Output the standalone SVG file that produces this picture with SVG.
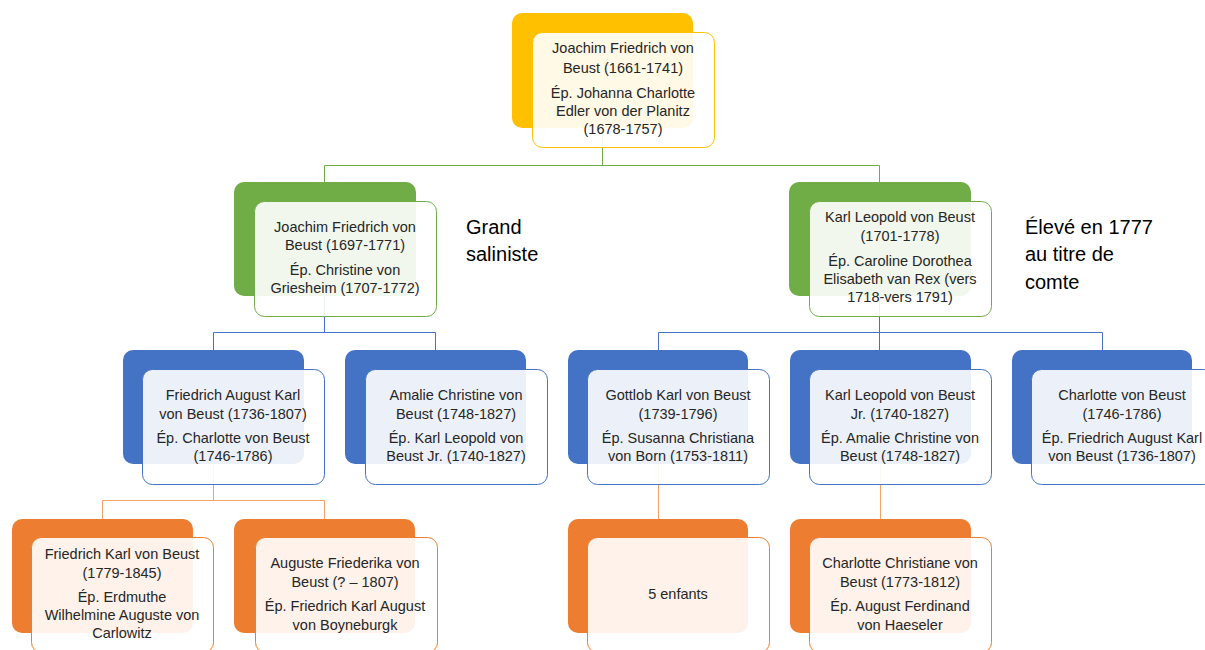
<svg xmlns="http://www.w3.org/2000/svg" width="1205" height="650" viewBox="0 0 1205 650">
<style>
.t{font-family:"Liberation Sans",Arial,sans-serif;font-size:14.5px;fill:#262626;text-anchor:middle}
.side{font-family:"Liberation Sans",Arial,sans-serif;font-size:20px;fill:#000}
.f{fill:#fff;fill-opacity:0.9;stroke-width:1}
.c{fill:none;stroke-width:1}
.gold .b{fill:#FFC000}.gold .f{stroke:#FFC000}
.green .b{fill:#70AD47}.green .f{stroke:#70AD47}
.blue .b{fill:#4472C4}.blue .f{stroke:#4472C4}
.orange .b{fill:#ED7D31}.orange .f{stroke:#ED7D31}
</style>
<rect width="1205" height="650" fill="#fff"/>
<g id="connectors">
<path class="c" stroke="#70AD47" d="M602.5,128V165.5M324.5,165.5H879.5M324.5,165.5V182M879.5,165.5V182"/>
<path class="c" stroke="#4472C4" d="M324.5,296V332.5M213.5,332.5H435.5M213.5,332.5V350M435.5,332.5V350"/>
<path class="c" stroke="#4472C4" d="M879.5,296V332.5M658.5,332.5H1102.5M658.5,332.5V350M879.5,332.5V350M1102.5,332.5V350"/>
<path class="c" stroke="#F4A36B" d="M213.5,464V500.5M102.5,500.5H324.5M102.5,500.5V519M324.5,500.5V519"/>
<path class="c" stroke="#F4A36B" d="M658.5,464V519M880.5,464V519"/>
</g>
<g id="n0" class="gold">
<rect class="b" x="512" y="13" width="181" height="115" rx="10"/>
<rect class="f" x="532.5" y="32.5" width="182" height="115" rx="10"/>
<text class="t"><tspan x="623" y="53">Joachim Friedrich von</tspan><tspan x="623" y="73">Beust (1661-1741)</tspan><tspan x="623" y="98">Ép. Johanna Charlotte</tspan><tspan x="623" y="116">Edler von der Planitz</tspan><tspan x="623" y="134">(1678-1757)</tspan></text>
</g>
<g id="n1" class="green">
<rect class="b" x="234" y="182" width="182" height="114" rx="10"/>
<rect class="f" x="254.5" y="201.5" width="182" height="115" rx="10"/>
<text class="t"><tspan x="345" y="232">Joachim Friedrich von</tspan><tspan x="345" y="250">Beust (1697-1771)</tspan><tspan x="345" y="275">Ép. Christine von</tspan><tspan x="345" y="293">Griesheim (1707-1772)</tspan></text>
</g>
<text class="side"><tspan x="466" y="234">Grand</tspan><tspan x="466" y="261">saliniste</tspan></text>
<g id="n2" class="green">
<rect class="b" x="789" y="182" width="182" height="114" rx="10"/>
<rect class="f" x="809.5" y="201.5" width="182" height="115" rx="10"/>
<text class="t"><tspan x="900" y="222">Karl Leopold von Beust</tspan><tspan x="900" y="241">(1701-1778)</tspan><tspan x="900" y="266">Ép. Caroline Dorothea</tspan><tspan x="900" y="284">Elisabeth van Rex (vers</tspan><tspan x="900" y="302">1718-vers 1791)</tspan></text>
</g>
<text class="side"><tspan x="1025" y="234">Élevé en 1777</tspan><tspan x="1025" y="261">au titre de</tspan><tspan x="1025" y="289">comte</tspan></text>
<g id="n3" class="blue">
<rect class="b" x="123" y="350" width="181" height="114" rx="10"/>
<rect class="f" x="142.5" y="369.5" width="182" height="115" rx="10"/>
<text class="t"><tspan x="233" y="400">Friedrich August Karl</tspan><tspan x="233" y="419">von Beust (1736-1807)</tspan><tspan x="233" y="443">Ép. Charlotte von Beust</tspan><tspan x="233" y="461">(1746-1786)</tspan></text>
</g>
<g id="n4" class="blue">
<rect class="b" x="345" y="350" width="181" height="114" rx="10"/>
<rect class="f" x="365.5" y="369.5" width="182" height="115" rx="10"/>
<text class="t"><tspan x="456" y="400">Amalie Christine von</tspan><tspan x="456" y="419">Beust (1748-1827)</tspan><tspan x="456" y="443">Ép. Karl Leopold von</tspan><tspan x="456" y="461">Beust Jr. (1740-1827)</tspan></text>
</g>
<g id="n5" class="blue">
<rect class="b" x="568" y="350" width="180" height="114" rx="10"/>
<rect class="f" x="587.5" y="369.5" width="182" height="115" rx="10"/>
<text class="t"><tspan x="678" y="400">Gottlob Karl von Beust</tspan><tspan x="678" y="419">(1739-1796)</tspan><tspan x="678" y="443">Ép. Susanna Christiana</tspan><tspan x="678" y="461">von Born (1753-1811)</tspan></text>
</g>
<g id="n6" class="blue">
<rect class="b" x="790" y="350" width="181" height="114" rx="10"/>
<rect class="f" x="809.5" y="369.5" width="182" height="115" rx="10"/>
<text class="t"><tspan x="900" y="400">Karl Leopold von Beust</tspan><tspan x="900" y="419">Jr. (1740-1827)</tspan><tspan x="900" y="443">Ép. Amalie Christine von</tspan><tspan x="900" y="461">Beust (1748-1827)</tspan></text>
</g>
<g id="n7" class="blue">
<rect class="b" x="1012" y="350" width="180" height="114" rx="10"/>
<rect class="f" x="1031.5" y="369.5" width="182" height="115" rx="10"/>
<text class="t"><tspan x="1122" y="400">Charlotte von Beust</tspan><tspan x="1122" y="419">(1746-1786)</tspan><tspan x="1122" y="443">Ép. Friedrich August Karl</tspan><tspan x="1122" y="461">von Beust (1736-1807)</tspan></text>
</g>
<g id="n8" class="orange">
<rect class="b" x="12" y="519" width="181" height="114" rx="10"/>
<rect class="f" x="31.5" y="537.5" width="182" height="115" rx="10"/>
<text class="t"><tspan x="122" y="559">Friedrich Karl von Beust</tspan><tspan x="122" y="578">(1779-1845)</tspan><tspan x="122" y="602">Ép. Erdmuthe</tspan><tspan x="122" y="620">Wilhelmine Auguste von</tspan><tspan x="122" y="638">Carlowitz</tspan></text>
</g>
<g id="n9" class="orange">
<rect class="b" x="234" y="519" width="181" height="114" rx="10"/>
<rect class="f" x="255.5" y="537.5" width="182" height="115" rx="10"/>
<text class="t"><tspan x="345" y="568">Auguste Friederika von</tspan><tspan x="345" y="587">Beust (? – 1807)</tspan><tspan x="345" y="611">Ép. Friedrich Karl August</tspan><tspan x="345" y="630">von Boyneburgk</tspan></text>
</g>
<g id="n10" class="orange">
<rect class="b" x="568" y="519" width="180" height="114" rx="10"/>
<rect class="f" x="587.5" y="537.5" width="182" height="115" rx="10"/>
<text class="t"><tspan x="678" y="599">5 enfants</tspan></text>
</g>
<g id="n11" class="orange">
<rect class="b" x="790" y="519" width="181" height="114" rx="10"/>
<rect class="f" x="809.5" y="537.5" width="182" height="115" rx="10"/>
<text class="t"><tspan x="900" y="568">Charlotte Christiane von</tspan><tspan x="900" y="587">Beust (1773-1812)</tspan><tspan x="900" y="611">Ép. August Ferdinand</tspan><tspan x="900" y="630">von Haeseler</tspan></text>
</g>
</svg>
